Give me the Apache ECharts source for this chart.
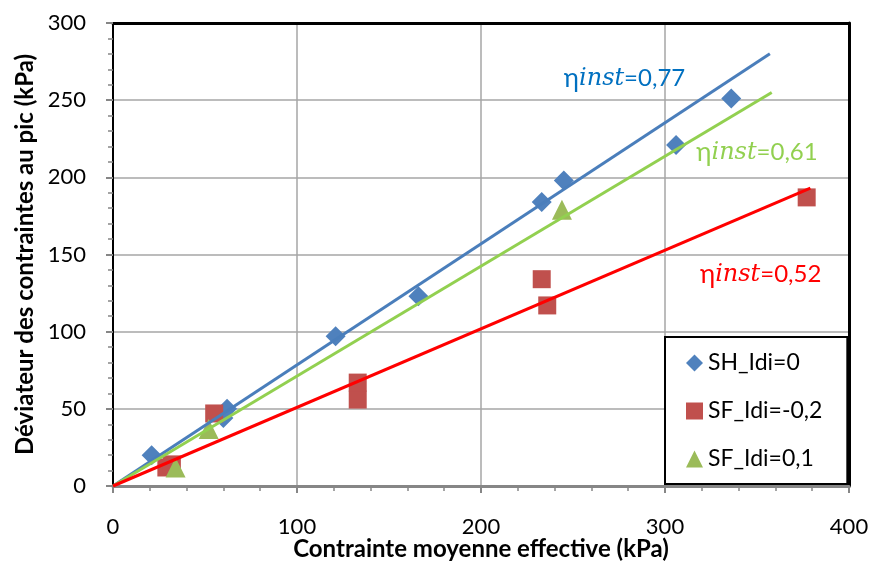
<!DOCTYPE html>
<html><head><meta charset="utf-8">
<script src="https://cdn.jsdelivr.net/npm/echarts@6/dist/echarts.min.js"></script>
<style>html,body{margin:0;padding:0;background:#fff}#c{width:871px;height:561px}</style>
</head><body><div id="c"></div>
<script>
// Data
const shIdi0 = [[21,20],[60,44],[62,50],[121,97],[166,123],[233,184],[245,198],[306,221],[336,251]];
const sfIdiM02 = [[29,12],[32,14],[55,47],[133,56],[133,67],[233,134],[236,117],[377,187]];
const sfIdi01 = [[34,12],[52,37],[244,179]];
const trendBlue = [[0,0],[357,280]];
const trendGreen = [[0,0],[358,255]];
const trendRed = [[0,0],[379,193]];
const seriesNames = ['SH_Idi=0','SF_Idi=-0,2','SF_Idi=0,1'];
const etaLabels = ['0,77','0,61','0,52'];
const xTitle = 'Contrainte moyenne effective (kPa)';
const yTitle = 'Déviateur des contraintes au pic (kPa)';

const F = 'Lato, "Open Sans", sans-serif';
const chart = echarts.init(document.getElementById('c'), null, {renderer:'canvas'});

function ann(label, color, coord){
  return {
    symbol:'circle', symbolSize:1, silent:true,
    itemStyle:{color:'rgba(0,0,0,0)'},
    data:[{coord:coord,
      label:{show:true, position:'inside', formatter:'{e|η}{b|inst}{a|=' + label + '}',
        rich:{a:{fontFamily:F,fontSize:24,color:color},
              e:{fontFamily:F,fontSize:26,color:color},
              b:{fontFamily:'"DejaVu Serif", serif',fontStyle:'italic',fontSize:24,color:color}}}}]
  };
}
const frameAxis = {show:true, axisLine:{show:true,onZero:false,lineStyle:{color:'#000',width:3}},
  axisTick:{show:false}, axisLabel:{show:false}, splitLine:{show:false}};

chart.setOption({
  animation:false,
  backgroundColor:'#fff',
  grid:{left:113,right:22,top:23,bottom:75,containLabel:false,outerBoundsMode:'none'},
  legend:{
    orient:'vertical', left:665, top:337,
    backgroundColor:'#fff', borderColor:'#000', borderWidth:2,
    padding:[14,25,13,21], itemGap:24, itemWidth:17, itemHeight:17,
    textStyle:{fontFamily:F,fontSize:23,lineHeight:24,color:'#000'},
    data:[{name:seriesNames[0],icon:'diamond'},{name:seriesNames[1],icon:'rect'},{name:seriesNames[2],icon:'triangle'}]
  },
  xAxis:[{
    type:'value', min:0, max:400, interval:100,
    name:xTitle, nameLocation:'middle', nameGap:51, nameMoveOverlap:false,
    nameTextStyle:{fontFamily:F,fontSize:24,fontWeight:'bold',color:'#000'},
    axisLine:{show:true,onZero:false,lineStyle:{color:'#868686',width:3}},
    axisTick:{show:true,length:7,lineStyle:{color:'#868686',width:2}},
    minorTick:{show:true,splitNumber:5,length:5,lineStyle:{color:'#868686',width:1.5}},
    axisLabel:{fontFamily:F,fontSize:22,color:'#000',margin:30},
    splitLine:{show:true,lineStyle:{color:'#A6A6A6',width:1.5}}
  }, Object.assign({type:'value',min:0,max:400,position:'top'}, frameAxis)],
  yAxis:[{
    type:'value', min:0, max:300, interval:50,
    name:yTitle, nameLocation:'middle', nameGap:76, nameMoveOverlap:false,
    nameTextStyle:{fontFamily:F,fontSize:24,fontWeight:'bold',color:'#000'},
    axisLine:{show:true,onZero:false,lineStyle:{color:'#000',width:2}},
    axisTick:{show:true,length:7,lineStyle:{color:'#868686',width:2}},
    minorTick:{show:true,splitNumber:5,length:5,lineStyle:{color:'#868686',width:1.5}},
    axisLabel:{fontFamily:F,fontSize:22,color:'#000',margin:27},
    splitLine:{show:true,lineStyle:{color:'#A6A6A6',width:1.5}}
  }, Object.assign({type:'value',min:0,max:300,position:'right'}, frameAxis)],
  series:[
    {name:seriesNames[0],type:'scatter',data:shIdi0,symbol:'diamond',symbolSize:20,itemStyle:{color:'#4F81BD',opacity:1},z:2},
    {name:seriesNames[1],type:'scatter',data:sfIdiM02,symbol:'rect',symbolSize:18,itemStyle:{color:'#C0504D',opacity:1},z:2},
    {name:seriesNames[2],type:'scatter',data:sfIdi01,symbol:'triangle',symbolSize:20,itemStyle:{color:'#9BBB59',opacity:1},z:2},
    {name:'tb',type:'line',data:trendBlue,symbol:'none',lineStyle:{color:'#4A7EBB',width:3},z:5,markPoint:ann(etaLabels[0],'#0070C0',[278,264])},
    {name:'tg',type:'line',data:trendGreen,symbol:'none',lineStyle:{color:'#92D050',width:3},z:5,markPoint:ann(etaLabels[1],'#92D050',[350,216])},
    {name:'tr',type:'line',data:trendRed,symbol:'none',lineStyle:{color:'#FF0000',width:3},z:5,markPoint:ann(etaLabels[2],'#FF0000',[352,137])}
  ]
});
</script></body></html>
